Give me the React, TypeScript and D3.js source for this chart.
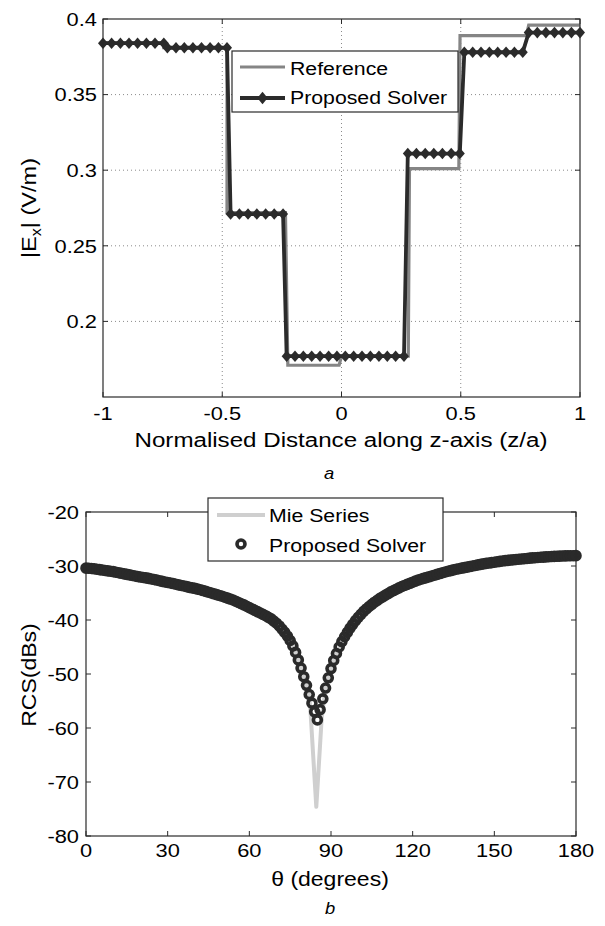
import React from "react";
import * as d3 from "d3";

const W = 605;
const H = 926;
const FONT = '"Liberation Sans", Arial, Helvetica, sans-serif';
const WIDEN = 1.15; // glyphs in the figure run a bit wider than Arial
const INK = "#000";
const AXIS = "#2a2a2a";

// ---------- panel a : |Ex| along z ----------
const zTicks = [-1, -0.5, 0, 0.5, 1];
const zTickLabels = ["-1", "-0.5", "0", "0.5", "1"];
const eTicks = [0.2, 0.25, 0.3, 0.35, 0.4];
const eTickLabels = ["0.2", "0.25", "0.3", "0.35", "0.4"];

// reference (step profile)
const refZ = [-1, -0.745, -0.745, -0.48, -0.48, -0.235, -0.225, -0.01, 0.0, 0.28, 0.285, 0.492, 0.497, 0.775, 0.785, 1];
const refE = [0.384, 0.384, 0.381, 0.381, 0.272, 0.272, 0.171, 0.171, 0.177, 0.177, 0.301, 0.301, 0.389, 0.389, 0.396, 0.396];

// proposed solver samples
const propZ = [
  -1, -0.964, -0.927, -0.891, -0.855, -0.818, -0.782, -0.745,
  -0.73, -0.694, -0.659, -0.623, -0.587, -0.551, -0.516, -0.48,
  -0.465, -0.428, -0.392, -0.355, -0.318, -0.282, -0.245,
  -0.23, -0.195, -0.16, -0.125, -0.09, -0.054, -0.019, 0.016, 0.051, 0.086, 0.121, 0.157, 0.192, 0.227, 0.262,
  0.278, 0.314, 0.351, 0.387, 0.423, 0.46, 0.496,
  0.515, 0.55, 0.585, 0.62, 0.655, 0.69, 0.725, 0.76,
  0.785, 0.821, 0.857, 0.893, 0.928, 0.964, 1.0,
];
const propE = [
  0.384, 0.384, 0.384, 0.384, 0.384, 0.384, 0.384, 0.384,
  0.381, 0.381, 0.381, 0.381, 0.381, 0.381, 0.381, 0.381,
  0.271, 0.271, 0.271, 0.271, 0.271, 0.271, 0.271,
  0.177, 0.177, 0.177, 0.177, 0.177, 0.177, 0.177, 0.177, 0.177, 0.177, 0.177, 0.177, 0.177, 0.177, 0.177,
  0.311, 0.311, 0.311, 0.311, 0.311, 0.311, 0.311,
  0.378, 0.378, 0.378, 0.378, 0.378, 0.378, 0.378, 0.378,
  0.391, 0.391, 0.391, 0.391, 0.391, 0.391, 0.391,
];

// ---------- panel b : RCS ----------
const thetaTicks = [0, 30, 60, 90, 120, 150, 180];
const rcsTicks = [-80, -70, -60, -50, -40, -30, -20];

const mieTheta = [
  0, 4, 8, 12, 16, 20, 24, 28, 32, 36, 40, 44, 48, 52, 56, 60, 64, 68, 72, 76,
  78, 80, 82, 82.6, 84.6, 86.6, 88, 90, 92, 96,
  100, 104, 108, 112, 116, 120, 124, 128, 132, 136, 140, 144, 148, 152, 156, 160, 164, 168, 172, 176, 180,
];
const mieRcs = [
  -30.4, -30.6, -30.9, -31.25, -31.65, -32.05, -32.4, -32.85, -33.25, -33.7, -34.15, -34.7, -35.3, -35.95, -36.75, -37.7, -38.7, -39.8, -41.7, -44.8,
  -47.4, -50.5, -53.8, -58, -74.6, -58, -52.6, -49.0, -46.2, -42.3,
  -39.5, -37.5, -36.0, -34.8, -33.8, -33.0, -32.3, -31.7, -31.1, -30.6, -30.2, -29.8, -29.45, -29.15, -28.9, -28.7, -28.5, -28.35, -28.22, -28.13, -28.08,
];

const solverTheta = [
  0, 1, 2, 3, 4, 5, 6, 7, 8, 9,
  10, 11, 12, 13, 14, 15, 16, 17, 18, 19,
  20, 21, 22, 23, 24, 25, 26, 27, 28, 29,
  30, 31, 32, 33, 34, 35, 36, 37, 38, 39,
  40, 41, 42, 43, 44, 45, 46, 47, 48, 49,
  50, 51, 52, 53, 54, 55, 56, 57, 58, 59,
  60, 61, 62, 63, 64, 65, 66, 67, 68, 69,
  70, 71, 72, 73, 74, 75, 76, 77, 78, 79,
  80, 81, 82, 83, 84, 85, 86, 87, 88, 89,
  90, 91, 92, 93, 94, 95, 96, 97, 98, 99,
  100, 101, 102, 103, 104, 105, 106, 107, 108, 109,
  110, 111, 112, 113, 114, 115, 116, 117, 118, 119,
  120, 121, 122, 123, 124, 125, 126, 127, 128, 129,
  130, 131, 132, 133, 134, 135, 136, 137, 138, 139,
  140, 141, 142, 143, 144, 145, 146, 147, 148, 149,
  150, 151, 152, 153, 154, 155, 156, 157, 158, 159,
  160, 161, 162, 163, 164, 165, 166, 167, 168, 169,
  170, 171, 172, 173, 174, 175, 176, 177, 178, 179,
  180,
];
const solverRcs = [
  -30.4, -30.42, -30.45, -30.52, -30.6, -30.67, -30.75, -30.82, -30.9, -30.97,
  -31.05, -31.15, -31.25, -31.35, -31.45, -31.55, -31.65, -31.75, -31.85, -31.95,
  -32.05, -32.12, -32.2, -32.3, -32.4, -32.5, -32.6, -32.72, -32.85, -32.95,
  -33.05, -33.15, -33.25, -33.38, -33.5, -33.6, -33.7, -33.82, -33.95, -34.05,
  -34.15, -34.28, -34.4, -34.55, -34.7, -34.85, -35.0, -35.15, -35.3, -35.45,
  -35.6, -35.78, -35.95, -36.12, -36.3, -36.52, -36.75, -36.98, -37.2, -37.45,
  -37.7, -37.95, -38.2, -38.45, -38.7, -38.95, -39.2, -39.5, -39.8, -40.2,
  -40.6, -41.1, -41.7, -42.3, -43.0, -43.8, -44.8, -46.0, -47.4, -48.9,
  -50.5, -52.1, -53.8, -55.4, -57.0, -58.5, -56.6, -54.6, -52.6, -50.7,
  -49.0, -47.5, -46.2, -45.0, -44.0, -43.1, -42.3, -41.5, -40.8, -40.1,
  -39.5, -38.95, -38.4, -37.95, -37.5, -37.1, -36.7, -36.35, -36.0, -35.7,
  -35.4, -35.1, -34.8, -34.55, -34.3, -34.05, -33.8, -33.6, -33.4, -33.2,
  -33.0, -32.8, -32.6, -32.45, -32.3, -32.15, -32.0, -31.85, -31.7, -31.55,
  -31.4, -31.25, -31.1, -30.97, -30.85, -30.72, -30.6, -30.5, -30.4, -30.3,
  -30.2, -30.1, -30.0, -29.9, -29.8, -29.7, -29.6, -29.52, -29.45, -29.37,
  -29.3, -29.22, -29.15, -29.07, -29.0, -28.95, -28.9, -28.85, -28.8, -28.75,
  -28.7, -28.65, -28.6, -28.55, -28.5, -28.46, -28.42, -28.38, -28.35, -28.31,
  -28.28, -28.25, -28.22, -28.2, -28.17, -28.15, -28.13, -28.11, -28.1, -28.09,
  -28.08,
];

type P = [number, number];
const zip = (a: number[], b: number[]): P[] => a.map((v, i) => [v, b[i]] as P);

function Txt({ x, y, children, anchor = "middle", size = 18.5, rotate = 0, italic = false, widen = WIDEN }: any) {
  return (
    <text
      transform={`translate(${x},${y}) rotate(${rotate}) scale(${widen},1)`}
      textAnchor={anchor}
      fontSize={size}
      fontFamily={FONT}
      fontStyle={italic ? "italic" : "normal"}
      fill={INK}
    >
      {children}
    </text>
  );
}

const diamond = (hw: number, hh: number) => `M0,${-hh}L${hw},0L0,${hh}L${-hw},0Z`;

function PanelA() {
  const x = d3.scaleLinear().domain([-1, 1]).range([103, 580]);
  const y = d3.scaleLinear().domain([0.15, 0.4]).range([397, 19]);
  const [L, R] = x.range();
  const [B, T] = y.range();
  const line = d3.line<P>().x((d) => x(d[0])).y((d) => y(d[1]));
  const prop = zip(propZ, propE);

  return (
    <g>
      {/* dotted grid */}
      {zTicks.slice(1, -1).map((t) => (
        <line key={"gx" + t} x1={x(t)} x2={x(t)} y1={T} y2={B} stroke="#8a8a8a" strokeWidth={1} strokeDasharray="1,3" />
      ))}
      {eTicks.slice(0, -1).map((t) => (
        <line key={"gy" + t} x1={L} x2={R} y1={y(t)} y2={y(t)} stroke="#8a8a8a" strokeWidth={1} strokeDasharray="1,3" />
      ))}

      <path d={line(zip(refZ, refE)) || ""} fill="none" stroke="#858585" strokeWidth={3.2} />
      <path d={line(prop) || ""} fill="none" stroke="#2b2b2b" strokeWidth={3.8} strokeLinejoin="round" />
      {prop.map((d, i) => (
        <path key={i} d={diamond(5, 5.8)} transform={`translate(${x(d[0])},${y(d[1])})`} fill="#2b2b2b" />
      ))}

      {/* axes box + ticks */}
      <rect x={L} y={T} width={R - L} height={B - T} fill="none" stroke={AXIS} strokeWidth={1.2} />
      {zTicks.map((t) => (
        <g key={"tx" + t}>
          <line x1={x(t)} x2={x(t)} y1={B} y2={B - 5} stroke={AXIS} />
          <line x1={x(t)} x2={x(t)} y1={T} y2={T + 5} stroke={AXIS} />
        </g>
      ))}
      {eTicks.map((t) => (
        <g key={"ty" + t}>
          <line x1={L} x2={L + 5} y1={y(t)} y2={y(t)} stroke={AXIS} />
          <line x1={R} x2={R - 5} y1={y(t)} y2={y(t)} stroke={AXIS} />
        </g>
      ))}
      {zTicks.map((t, i) => (
        <Txt key={"lx" + t} x={x(t)} y={B + 23} size={19}>{zTickLabels[i]}</Txt>
      ))}
      {eTicks.map((t, i) => (
        <Txt key={"ly" + t} x={97} y={y(t) + 6.8} size={19} anchor="end">{eTickLabels[i]}</Txt>
      ))}

      <Txt x={341} y={446.5} size={21}>Normalised Distance along z-axis (z/a)</Txt>
      <Txt x={36} y={208} size={20.5} rotate={-90}>
        <tspan>|E</tspan>
        <tspan dy={5} fontSize={14}>x</tspan>
        <tspan dy={-5}>| (V/m)</tspan>
      </Txt>
      <Txt x={329} y={479} size={16} italic>a</Txt>

      {/* legend */}
      <rect x={232} y={51} width={226} height={61} fill="#fff" stroke={AXIS} strokeWidth={1.2} />
      <line x1={240} x2={285} y1={67} y2={67} stroke="#858585" strokeWidth={3.2} />
      <Txt x={290} y={74.5} anchor="start">Reference</Txt>
      <line x1={240} x2={285} y1={98} y2={98} stroke="#2b2b2b" strokeWidth={3.8} />
      <path d={diamond(5.2, 6.2)} transform="translate(262.5,98)" fill="#2b2b2b" />
      <Txt x={290} y={104} anchor="start">Proposed Solver</Txt>
    </g>
  );
}

function PanelB() {
  const x = d3.scaleLinear().domain([0, 180]).range([86, 576]);
  const y = d3.scaleLinear().domain([-80, -20]).range([836, 512]);
  const [L, R] = x.range();
  const [B, T] = y.range();
  const line = d3.line<P>().x((d) => x(d[0])).y((d) => y(d[1]));
  const solver = zip(solverTheta, solverRcs);

  return (
    <g>
      <path d={line(zip(mieTheta, mieRcs)) || ""} fill="none" stroke="#cfcfcf" strokeWidth={4} strokeLinejoin="round" />
      {solver.map((d, i) => (
        <circle key={i} cx={x(d[0])} cy={y(d[1])} r={4} fill="none" stroke="#2a2a2a" strokeWidth={3.6} />
      ))}

      <rect x={L} y={T} width={R - L} height={B - T} fill="none" stroke={AXIS} strokeWidth={1.2} />
      {thetaTicks.map((t) => (
        <g key={"tx" + t}>
          <line x1={x(t)} x2={x(t)} y1={B} y2={B - 5} stroke={AXIS} />
          <line x1={x(t)} x2={x(t)} y1={T} y2={T + 5} stroke={AXIS} />
        </g>
      ))}
      {rcsTicks.map((t) => (
        <g key={"ty" + t}>
          <line x1={L} x2={L + 5} y1={y(t)} y2={y(t)} stroke={AXIS} />
          <line x1={R} x2={R - 5} y1={y(t)} y2={y(t)} stroke={AXIS} />
        </g>
      ))}
      {thetaTicks.map((t) => (
        <Txt key={"lx" + t} x={x(t)} y={B + 21} size={19}>{String(t)}</Txt>
      ))}
      {rcsTicks.map((t) => (
        <Txt key={"ly" + t} x={79} y={y(t) + 6.8} size={19} anchor="end">{String(t)}</Txt>
      ))}

      <Txt x={330} y={886} size={20}>θ (degrees)</Txt>
      <Txt x={36} y={675} size={20} rotate={-90}>RCS(dBs)</Txt>
      <Txt x={330} y={914} size={16} italic>b</Txt>

      {/* legend */}
      <rect x={208} y={498} width={235} height={63} fill="#fff" stroke={AXIS} strokeWidth={1.2} />
      <line x1={217} x2={265} y1={515} y2={515} stroke="#cfcfcf" strokeWidth={4} />
      <Txt x={269} y={522} anchor="start">Mie Series</Txt>
      <circle cx={241} cy={544} r={4} fill="none" stroke="#2a2a2a" strokeWidth={3.6} />
      <Txt x={269} y={551.5} anchor="start">Proposed Solver</Txt>
    </g>
  );
}

export default function App() {
  return (
    <svg width={W} height={H} style={{ position: "absolute", left: 0, top: 0, background: "#fff" }}>
      <rect width={W} height={H} fill="#fff" />
      <PanelA />
      <PanelB />
    </svg>
  );
}
